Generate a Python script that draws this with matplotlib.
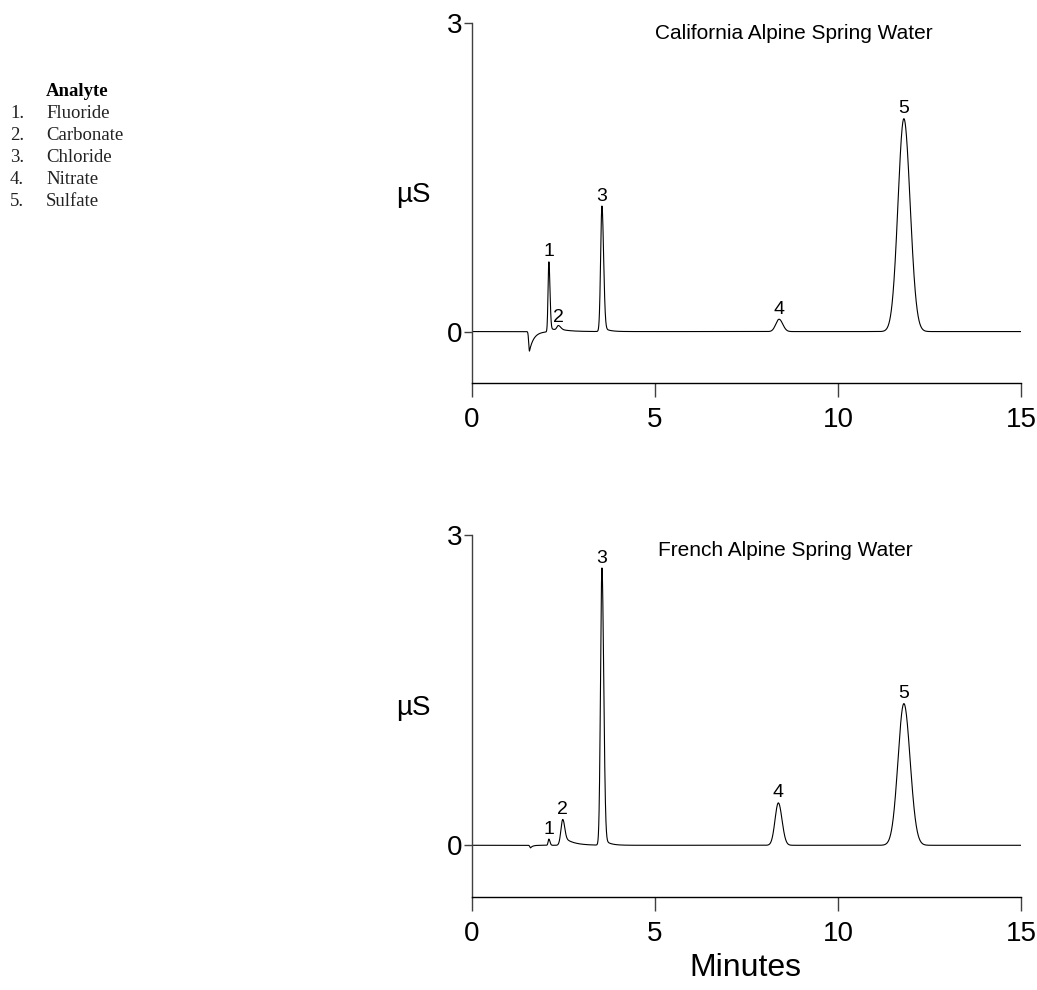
import numpy as np
import matplotlib
matplotlib.use("Agg")
import matplotlib.pyplot as plt

# ---------------- data ----------------
analytes = ["Fluoride", "Carbonate", "Chloride", "Nitrate", "Sulfate"]
peak_labels = ["1", "2", "3", "4", "5"]

# California Alpine Spring Water
ca_times = [2.10, 2.36, 3.55, 8.39, 11.80]
ca_heights = [0.68, 0.045, 1.22, 0.12, 2.07]
ca_sigma_left = [0.022, 0.04, 0.035, 0.09, 0.16]
ca_sigma_right = [0.030, 0.06, 0.045, 0.10, 0.17]
ca_tail_frac = [0.05, 0.3, 0.04, 0.0, 0.0]
ca_tail_tau = [0.30, 0.25, 0.15, 0.1, 0.1]
ca_dip_time = 1.57
ca_dip_depth = -0.19
ca_dip_tau = 0.12

# French Alpine Spring Water
fr_times = [2.10, 2.48, 3.55, 8.37, 11.80]
fr_heights = [0.06, 0.25, 2.68, 0.41, 1.37]
fr_sigma_left = [0.02, 0.05, 0.038, 0.09, 0.16]
fr_sigma_right = [0.03, 0.05, 0.048, 0.10, 0.17]
fr_tail_frac = [0.0, 0.35, 0.03, 0.0, 0.0]
fr_tail_tau = [0.1, 0.25, 0.15, 0.1, 0.1]
fr_dip_time = 1.60
fr_dip_depth = -0.025
fr_dip_tau = 0.06

x_ticks = [0, 5, 10, 15]
y_ticks = [0, 3]


def trace(t, times, heights, sl, sr, tf, tt, dip_t, dip_d, dip_tau):
    y = np.zeros_like(t)
    for c, h, a, b, f, tau in zip(times, heights, sl, sr, tf, tt):
        dt = t - c
        left = h * np.exp(-0.5 * (dt / a) ** 2)
        g = np.exp(-0.5 * (dt / b) ** 2)
        right = h * (g + f * np.exp(-np.clip(dt, 0, None) / tau) * (1 - g))
        y += np.where(dt < 0, left, right)
    dt = t - dip_t
    dip = np.where(dt < 0, dip_d * np.exp(-0.5 * (dt / 0.02) ** 2),
                   dip_d * np.exp(-dt / dip_tau))
    y += dip
    return y


t = np.linspace(0, 15, 6001)
ca_y = trace(t, ca_times, ca_heights, ca_sigma_left, ca_sigma_right,
             ca_tail_frac, ca_tail_tau, ca_dip_time, ca_dip_depth, ca_dip_tau)
fr_y = trace(t, fr_times, fr_heights, fr_sigma_left, fr_sigma_right,
             fr_tail_frac, fr_tail_tau, fr_dip_time, fr_dip_depth, fr_dip_tau)

# ---------------- figure ----------------
W, H = 1037, 990
fig = plt.figure(figsize=(W / 100, H / 100), dpi=100)

sans = ["Liberation Sans", "DejaVu Sans"]
serif = ["Liberation Serif", "DejaVu Serif"]
axis_col = "#404040"


def make_axes(rect, y, times, heights, title, title_xy):
    ax = fig.add_axes(rect)
    ax.plot(t, y, color="black", lw=0.8)
    ax.set_xlim(0, 15)
    ax.set_ylim(-0.5, 3)
    for s in ("top", "right"):
        ax.spines[s].set_visible(False)
    ax.spines["left"].set_color(axis_col)
    ax.spines["bottom"].set_color("black")
    ax.spines["left"].set_linewidth(1.0)
    ax.spines["bottom"].set_linewidth(1.0)
    ax.set_xticks(x_ticks)
    ax.set_yticks(y_ticks)
    ax.tick_params(axis="x", direction="out", length=10, width=1.0,
                   color=axis_col, labelsize=20, pad=7)
    ax.tick_params(axis="y", direction="out", length=6, width=1.0,
                   color=axis_col, labelsize=20, pad=1)
    for lab in ax.get_xticklabels() + ax.get_yticklabels():
        lab.set_family(sans)
    ax.text(-0.107, 1.33, "µS", transform=ax.get_yaxis_transform(),
            ha="center", va="center", fontsize=20, family=sans)
    ax.text(title_xy[0], title_xy[1], title, ha="left", va="center",
            fontsize=15, family=sans)
    for lab, c, h in zip(peak_labels, times, heights):
        ax.annotate(lab, (c, h), xytext=(0, 1), textcoords="offset points",
                    ha="center", va="bottom", fontsize=14, family=sans)
    return ax


ax1 = make_axes([472 / W, 1 - 383 / H, 549 / W, 360 / H], ca_y, ca_times,
                ca_heights, "California Alpine Spring Water", (5.0, 2.9))
ax2 = make_axes([472 / W, 1 - 897 / H, 549 / W, 362 / H], fr_y, fr_times,
                fr_heights, "French Alpine Spring Water", (5.08, 2.85))

fig.text(745 / W, 1 - 968 / H, "Minutes", ha="center", va="center",
         fontsize=23, family=sans)

# legend block
fig.text(46 / W, 1 - 91 / H, "Analyte", ha="left", va="center",
         fontsize=13.5, family=serif, fontweight="bold")
for i, name in enumerate(analytes):
    yy = 1 - (113 + 22.2 * i) / H
    fig.text(10 / W, yy, f"{i + 1}.", ha="left", va="center",
             fontsize=13.5, family=serif, color="#222222")
    fig.text(46 / W, yy, name, ha="left", va="center",
             fontsize=13.5, family=serif, color="#222222")

fig.savefig("out.png", dpi=100)
